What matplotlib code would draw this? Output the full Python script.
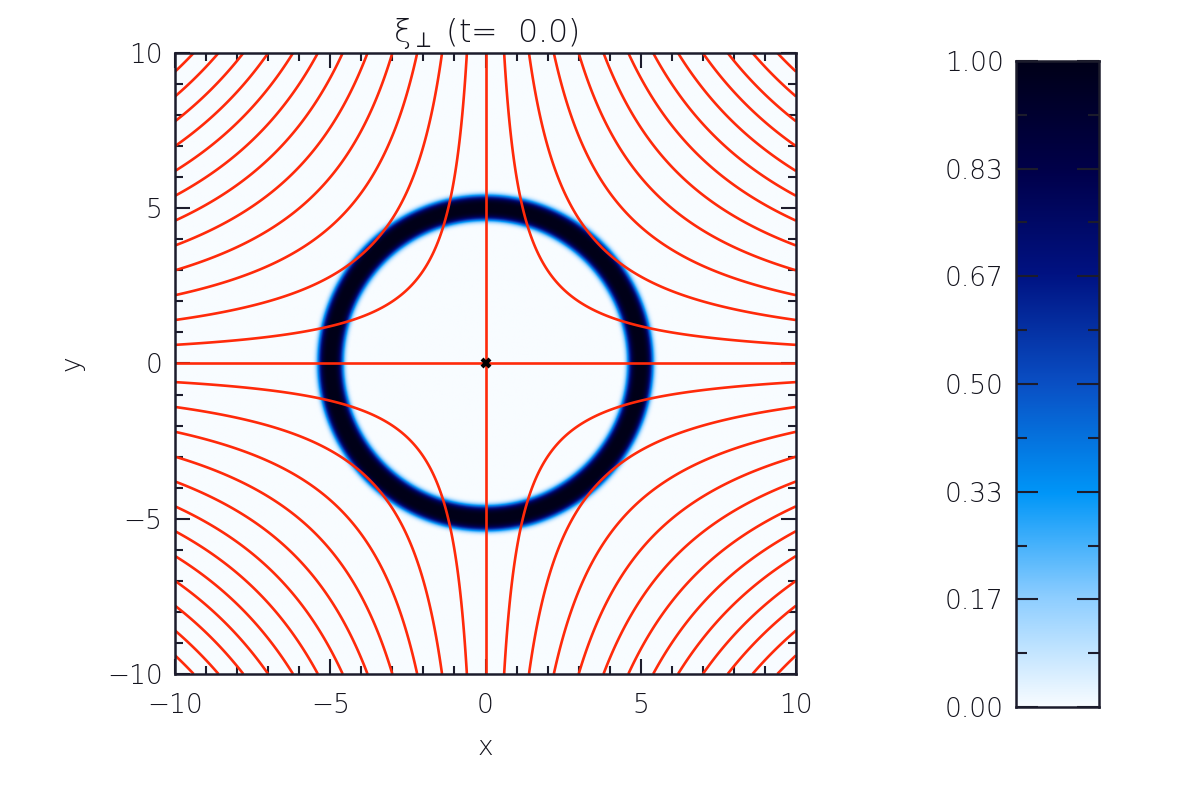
import numpy as np
import matplotlib
matplotlib.use("Agg")
import matplotlib.pyplot as plt
from matplotlib.colors import LinearSegmentedColormap

# ring of xi_perp at t=0 and the x-point field lines psi = x*y
ring_radius = 5.0
ring_halfwidth = 0.40
flux_levels = [6, 14, 22, 30, 38, 46, 54, 62, 70, 78, 86, 94]
separatrix = [0.0]
xpoint = (0.0, 0.0)

cbar_ticks = [0.0, 1/6, 2/6, 3/6, 4/6, 5/6, 1.0]
cbar_labels = ["0.00", "0.17", "0.33", "0.50", "0.67", "0.83", "1.00"]

# colour table (white -> light blue -> blue -> navy -> black)
cmap_pos = [0.0, 0.17, 0.33, 0.50, 0.67, 0.83, 1.0]
cmap_col = ["#f8fcff", "#8ccdff", "#0096f8", "#0a4fc4", "#001282", "#00004a", "#000018"]

frame = "#1c1c2c"
txt = "#14141e"
red = "#ff2a0a"

plt.rcParams['font.family'] = ['DejaVu Sans']
plt.rcParams['font.size'] = 19
plt.rcParams['font.weight'] = 'light'
plt.rcParams['axes.titleweight'] = 'light'
plt.rcParams['axes.labelweight'] = 'light'
plt.rcParams['mathtext.fontset'] = 'dejavusans'

cmap = LinearSegmentedColormap.from_list("xi", list(zip(cmap_pos, cmap_col)))

n = 600
x = np.linspace(-10, 10, n)
X, Y = np.meshgrid(x, x)
R = np.sqrt(X**2 + Y**2)
xi = np.exp(-((R - ring_radius) / ring_halfwidth)**4)
psi = X * Y

fig = plt.figure(figsize=(11.81, 7.86), dpi=100)
ax = fig.add_axes([0.1482, 0.1425, 0.5258, 0.7901])

ax.imshow(xi, extent=[-10, 10, -10, 10], origin='lower', cmap=cmap,
          vmin=0, vmax=1, interpolation='bilinear', aspect='auto')
levels = sorted([-l for l in flux_levels] + flux_levels)
ax.contour(X, Y, psi, levels=levels, colors=red, linewidths=1.9, linestyles='solid')
for s in separatrix:
  ax.axhline(s, color=red, lw=1.9)
  ax.axvline(s, color=red, lw=1.9)
ax.plot([xpoint[0]], [xpoint[1]], marker='x', color='k', ms=6, mew=3)

ax.set_xlim(-10, 10)
ax.set_ylim(-10, 10)
ax.set_xticks([-10, -5, 0, 5, 10])
ax.set_yticks([-10, -5, 0, 5, 10])
ax.set_xticklabels(["\u221210", "\u22125", "0", "5", "10"])
ax.set_yticklabels(["\u221210", "\u22125", "0", "5", "10"])
ax.set_xticks(np.arange(-10, 11, 1), minor=True)
ax.set_yticks(np.arange(-10, 11, 1), minor=True)
ax.tick_params(which='both', direction='in', top=True, right=True, color=frame, width=1.5)
ax.tick_params(which='major', length=11)
ax.tick_params(which='minor', length=6)
ax.tick_params(axis='x', pad=14, colors=frame, labelcolor=txt)
ax.tick_params(axis='y', pad=9, colors=frame, labelcolor=txt)
for sp in ax.spines.values():
  sp.set_linewidth(1.8)
  sp.set_color(frame)
ax.set_xlabel("x", labelpad=12, color=txt)
ax.set_ylabel("y", labelpad=16, color=txt)
ax.set_title("\u03be$_{\\perp}$ (t=  0.0)", pad=8, color=txt)

# colour bar
cax = fig.add_axes([0.8603, 0.1005, 0.0703, 0.8219])
grad = np.linspace(0, 1, 256).reshape(-1, 1)
cax.imshow(grad, extent=[0, 1, 0, 1], origin='lower', cmap=cmap, vmin=0, vmax=1, aspect='auto')
cax.set_xlim(0, 1)
cax.set_ylim(0, 1)
cax.set_xticks([])
cax.set_yticks(cbar_ticks)
cax.set_yticklabels(cbar_labels)
cax.set_yticks([(a + b) / 2 for a, b in zip(cbar_ticks[:-1], cbar_ticks[1:])], minor=True)
cax.tick_params(which='both', direction='in', left=True, right=True, color=frame, width=1.5, pad=9,
                labelcolor=txt)
cax.tick_params(which='major', length=16)
cax.tick_params(which='minor', length=8)
for sp in cax.spines.values():
  sp.set_linewidth(1.8)
  sp.set_color(frame)

fig.savefig("out.png", dpi=100)
